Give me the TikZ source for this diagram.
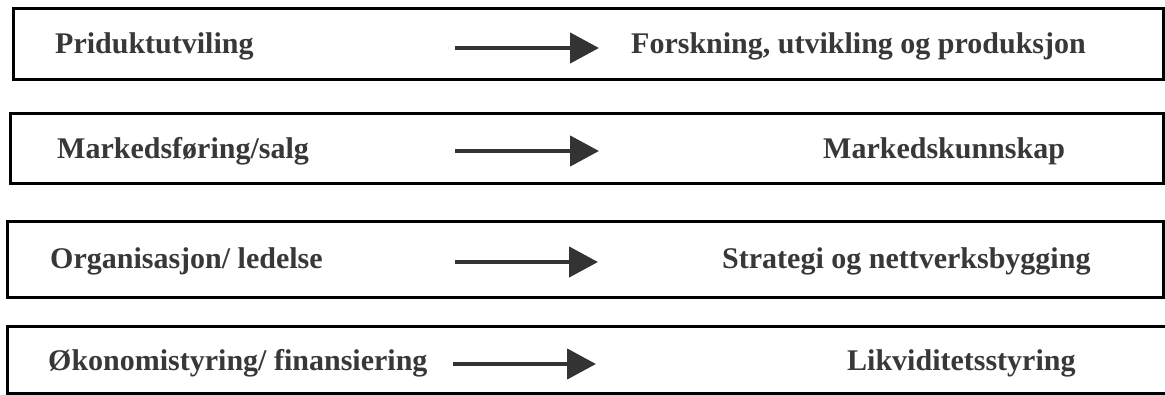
\documentclass[tikz,border=0pt]{standalone}
\usepackage{fontspec}
\setmainfont{Liberation Serif}
\usetikzlibrary{arrows.meta}
\definecolor{txt}{HTML}{383838}
\definecolor{arr}{HTML}{333333}
\begin{document}
\begin{tikzpicture}[x=1pt,y=-1pt,
  box/.style={draw=black,line width=3pt,rectangle,inner sep=0pt,fill=white},
  lbl/.style={anchor=base west,inner sep=0pt,text=txt,font=\fontsize{30}{36}\selectfont\bfseries},
  bigarrow/.style={draw=arr,line width=4.5pt,-{Triangle[length=29pt,width=30pt]}}]
\useasboundingbox (0,0) rectangle (1165,394);
\fill[white] (0,0) rectangle (1165,394);
% boxes
\node[box,minimum width=1150pt,minimum height=71pt] (b1) at (588,43.5) {};
\node[box,minimum width=1153pt,minimum height=70pt] (b2) at (586.5,148) {};
\node[box,minimum width=1156pt,minimum height=76pt] (b3) at (585,259) {};
\node[box,minimum width=1159pt,minimum height=67pt] (b4) at (586.5,359.5) {};
% labels
\node[lbl] (l1) at (55,53) {Priduktutviling};
\node[lbl] (r1) at (631,53) {Forskning, utvikling og produksjon};
\node[lbl] (l2) at (57,158) {Markedsføring/salg};
\node[lbl] (r2) at (823,158) {Markedskunnskap};
\node[lbl] (l3) at (50,268) {Organisasjon/ ledelse};
\node[lbl] (r3) at (722,268) {Strategi og nettverksbygging};
\node[lbl] (l4) at (48,370) {Økonomistyring/ finansiering};
\node[lbl] (r4) at (847,370) {Likviditetsstyring};
% arrows
\coordinate (a1s) at (455,48);  \coordinate (a1e) at (599,48);
\coordinate (a2s) at (455,151); \coordinate (a2e) at (599,151);
\coordinate (a3s) at (455,262); \coordinate (a3e) at (598,262);
\coordinate (a4s) at (453,364); \coordinate (a4e) at (596,364);
\draw[bigarrow] (a1s) -- (a1e);
\draw[bigarrow] (a2s) -- (a2e);
\draw[bigarrow] (a3s) -- (a3e);
\draw[bigarrow] (a4s) -- (a4e);
\end{tikzpicture}
\end{document}
